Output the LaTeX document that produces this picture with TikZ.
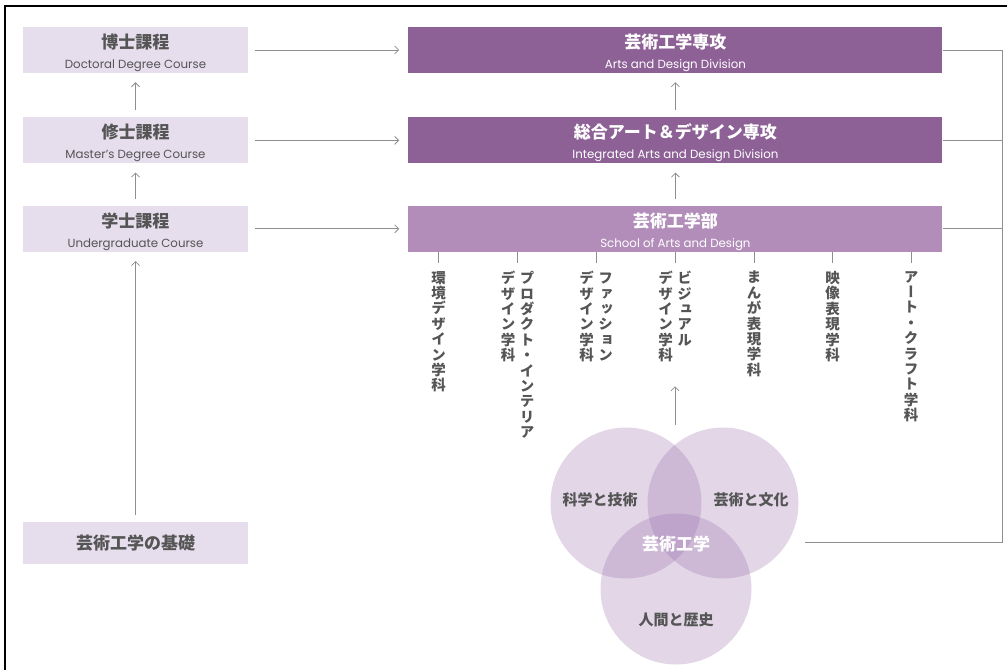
\documentclass[tikz,border=0pt]{standalone}
\usepackage{fontspec}
\setmainfont{Noto Sans CJK JP}
\newfontfamily\enfont{Poppins}
\newfontfamily\tatefont[RawFeature=+vert]{Noto Sans CJK JP}
\usetikzlibrary{arrows.meta,positioning}

\definecolor{pale}{HTML}{E6DDED}
\definecolor{deep}{HTML}{8D6196}
\definecolor{mid}{HTML}{B28DB9}
\definecolor{ink}{HTML}{555555}
\definecolor{wire}{HTML}{8E8E8E}
\definecolor{vennfill}{HTML}{9A72AC}

% title over subtitle inside a box
\newcommand\coursetext[2]{{\fontsize{17}{19}\selectfont\bfseries\rule{0pt}{20pt}#1}\\[8pt]{\enfont\fontsize{11.8}{12}\selectfont #2}}
% one column of vertical text
\makeatletter
\newcommand\tate[1]{\vtop{\baselineskip=15.4pt\lineskiplimit=-20pt\@tfor\tatec:=#1\do{\hbox to 16pt{\hss\tatec\hss}}}}
\makeatother

\begin{document}
\begin{tikzpicture}[x=1pt,y=-1pt,
    course/.style={fill=pale,text=ink,minimum width=225pt,minimum height=46pt,inner sep=0pt,align=center},
    division/.style={course,fill=deep,text=white,minimum width=534pt},
    school/.style={division,fill=mid},
    flow/.style={draw=wire,line width=0.8pt,shorten <=7pt,shorten >=9pt,-{Straight Barb[length=4pt,width=8pt]}},
    wire/.style={draw=wire,line width=0.8pt},
    dept/.style={font=\tatefont\fontsize{14.5}{15.4}\selectfont\bfseries,text=ink,anchor=north,inner xsep=0pt,inner ysep=8pt},
    venn/.style={circle,fill=vennfill,fill opacity=0.29,minimum size=151pt,inner sep=0pt},
    vennlabel/.style={font=\fontsize{15}{18}\selectfont\bfseries,text=ink}]
  \useasboundingbox (0,0) rectangle (1007,670);
  \draw[line width=1.6pt] (5,670) -- (5,6) -- (1007,6);

  % courses
  \node[course] (phd) at (135.5,50) {\coursetext{博士課程}{Doctoral Degree Course}};
  \node[course,below=44pt of phd] (mst) {\coursetext{修士課程}{Master’s Degree Course}};
  \node[course,below=42pt of mst] (ugr) {\coursetext{学士課程}{Undergraduate Course}};
  \node[course,minimum height=42pt,font=\fontsize{17}{19}\selectfont\bfseries] (base) at (135.5,543) {芸術工学の基礎};

  % divisions
  \node[division,right=160pt of phd] (ard) {\coursetext{芸術工学専攻}{Arts and Design Division}};
  \node[division,right=160pt of mst] (iad) {\coursetext{総合アート＆デザイン専攻}{Integrated Arts and Design Division}};
  \node[school,right=160pt of ugr] (sad) {\coursetext{芸術工学部}{School of Arts and Design}};

  \draw[flow] (phd) -- (ard);
  \draw[flow] (mst) -- (iad);
  \draw[flow] (ugr) -- (sad);
  \draw[flow] (mst) -- (phd);
  \draw[flow] (ugr) -- (mst);
  \draw[flow] (base) -- (ugr);
  \draw[flow] (iad) -- (ard);
  \draw[flow] (sad) -- (iad);

  % departments
  \node[dept] (env) at (438.5,263) {\tate{環境デザイン学科}};
  \node[dept] (prd) at (517.5,263) {\tate{デザイン学科}\hspace{3pt}\tate{プロダクト・インテリア}};
  \node[dept] (fsh) at (596,263) {\tate{デザイン学科}\hspace{3pt}\tate{ファッション}};
  \node[dept] (vis) at (675,263) {\tate{デザイン学科}\hspace{3pt}\tate{ビジュアル}};
  \node[dept] (mng) at (754,263) {\tate{まんが表現学科}};
  \node[dept] (img) at (832.5,263) {\tate{映像表現学科}};
  \node[dept] (art) at (911,263) {\tate{アート・クラフト学科}};
  \foreach \d in {env,prd,fsh,vis,mng,img,art}
    \draw[wire] (\d.north) -- (\d.north |- sad.south);

  % venn
  \node[venn] (sci) at (626,503) {};
  \node[venn] (cul) at (723,503) {};
  \node[venn] (hum) at (676,589) {};
  \node[vennlabel] at (600,500) {科学と技術};
  \node[vennlabel] at (751,500) {芸術と文化};
  \node[vennlabel] at (676,620) {人間と歴史};
  \node[vennlabel,text=white,font=\fontsize{17}{19}\selectfont\bfseries] at (676,544) {芸術工学};
  \draw[flow,shorten <=2pt,shorten >=16pt] (vis |- sci.north) -- (vis.south);

  % return rail
  \coordinate (rail) at (1002,50);
  \coordinate (hook) at (805,542);
  \draw[wire] (ard.east) -| (rail |- hook) -- (hook);
  \draw[wire] (iad.east) -- (iad.east -| rail);
  \draw[wire] (sad.east) -- (sad.east -| rail);
\end{tikzpicture}
\end{document}
